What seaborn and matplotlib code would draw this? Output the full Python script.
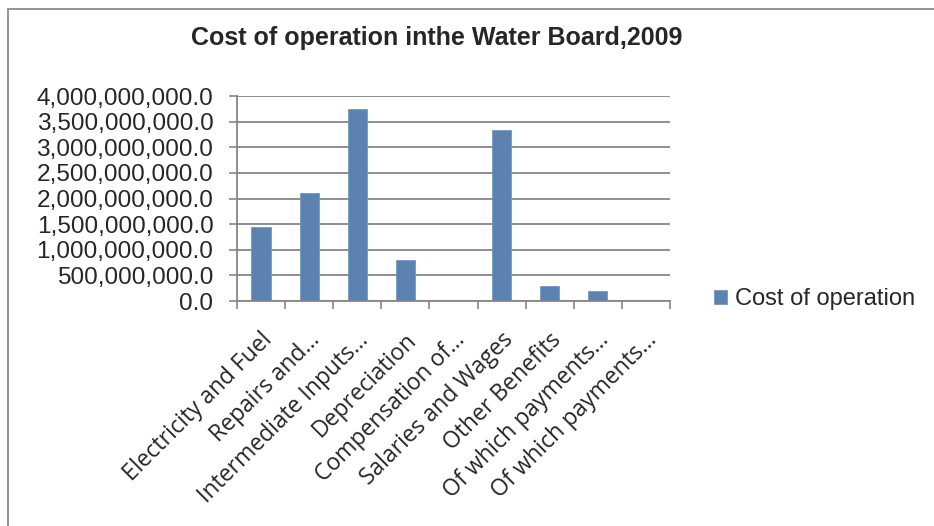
import matplotlib
matplotlib.use("Agg")
import matplotlib.pyplot as plt
import matplotlib.ticker as mticker
import matplotlib.transforms as mtransforms
from matplotlib.patches import Rectangle
import seaborn as sns
import pandas as pd
import numpy as np

categories = [
    "Electricity and Fuel",
    "Repairs and…",
    "Intermediate Inputs…",
    "Depreciation",
    "Compensation of…",
    "Salaries and Wages",
    "Other Benefits",
    "Of which payments…",
    "Of which payments…",
]
cost_values = [1.444e9, 2.114e9, 3.74e9, 0.793e9, 0.0, 3.337e9, 0.286e9, 0.195e9, 0.0]
series_name = "Cost of operation"
y_ticks = np.arange(0, 4.0e9 + 1, 0.5e9)

df = pd.DataFrame({
    "pos": [f"c{i}" for i in range(len(categories))],
    "value": cost_values,
    "series": series_name,
})

sns.set_theme(style="white")
plt.rcParams["font.family"] = ["Liberation Sans", "DejaVu Sans"]

bar_color = "#4F81BD"
grid_color = "#878787"

fig = plt.figure(figsize=(9.34, 5.26), dpi=100)
ax = fig.add_axes([237 / 934, 1 - 301 / 526, (670 - 237) / 934, (301 - 96) / 526])

sns.barplot(data=df, x="pos", y="value", hue="series", palette=[bar_color],
            width=0.4, ax=ax, legend=True, edgecolor="#7099cc", linewidth=0.6)

ax.set_xlim(-0.5, len(categories) - 0.5)
ax.set_ylim(0, 4.0e9)
ax.set_yticks(y_ticks)
ax.yaxis.set_major_formatter(mticker.FuncFormatter(lambda v, p: f"{v:,.1f}"))
ax.tick_params(axis="y", labelsize=17.6, length=6, width=1.2, color=grid_color,
               direction="out", pad=11, left=True)
ax.grid(axis="y", color=grid_color, linewidth=1.3)
ax.set_axisbelow(True)

# category labels: rotated 45°, right end just below each category
ax.set_xticks(range(len(categories)))
ax.set_xticklabels(categories, rotation=45, ha="right", va="baseline",
                   rotation_mode="anchor", fontsize=16.5,
                   family=["Open Sans", "DejaVu Sans"])
ax.tick_params(axis="x", which="major", length=0, pad=0)
shift = mtransforms.ScaledTranslation(12 / 100, -40 / 100, fig.dpi_scale_trans)
for lbl in ax.get_xticklabels():
    lbl.set_transform(lbl.get_transform() + shift)

# tick marks on the category boundaries
ax.set_xticks(np.arange(-0.5, len(categories), 1.0), minor=True)
ax.tick_params(axis="x", which="minor", length=6, width=1.2, color=grid_color,
               direction="out", bottom=True)
ax.set_xlabel("")
ax.set_ylabel("")

for side in ["top", "right"]:
    ax.spines[side].set_visible(False)
for side in ["left", "bottom"]:
    ax.spines[side].set_color(grid_color)
    ax.spines[side].set_linewidth(1.3)

leg = ax.legend(loc="center left", bbox_to_anchor=(697 / 934, 1 - 299 / 526),
                bbox_transform=fig.transFigure, frameon=False, fontsize=17,
                handlelength=0.55, handleheight=0.55, handletextpad=0.35,
                borderpad=0.2)

fig.text(437 / 934, 1 - 45 / 526, "Cost of operation inthe Water Board,2009",
         ha="center", va="baseline", fontsize=18, fontweight="bold",
         family=["Liberation Sans Narrow", "Liberation Sans", "DejaVu Sans"])

fig.patches.append(Rectangle((8 / 934, -0.05), 1.0, 1 - 9 / 526 + 0.05,
                             transform=fig.transFigure, fill=False,
                             edgecolor="#8a8a8a", linewidth=1.3))

fig.savefig("out.png", dpi=100)
